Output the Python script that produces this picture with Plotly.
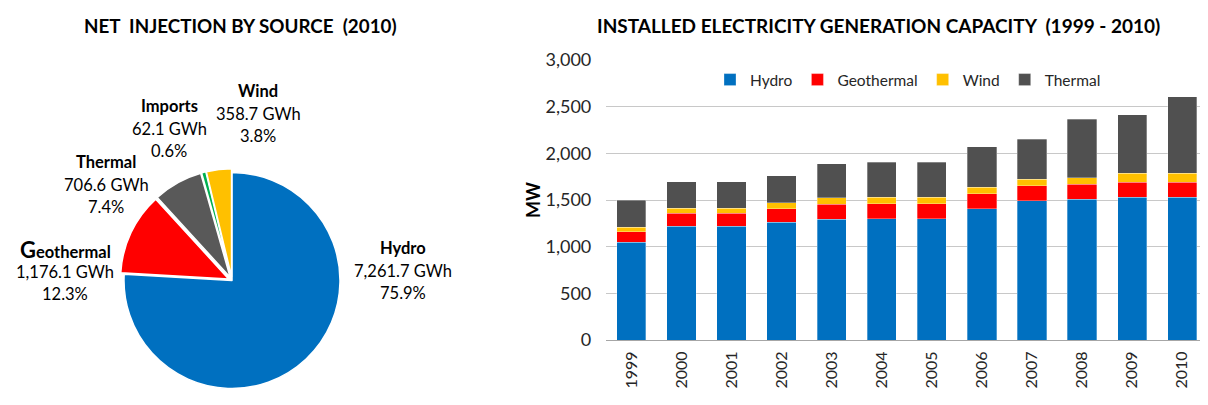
import plotly.graph_objects as go

# ---- Pie data (2010 net injection) ----
pie_labels = ["Hydro", "Geothermal", "Thermal", "Imports", "Wind"]
pie_gwh = [7261.7, 1176.1, 706.6, 62.1, 358.7]
pie_pct = [75.9, 12.3, 7.4, 0.6, 3.8]
pie_colors = ["#0070C0", "#FF0000", "#595959", "#00B050", "#FFC000"]

# ---- Bar data (installed capacity, MW) ----
years = ["1999", "2000", "2001", "2002", "2003", "2004", "2005",
         "2006", "2007", "2008", "2009", "2010"]
hydro = [1050, 1220, 1220, 1260, 1295, 1300, 1300, 1405, 1490, 1507, 1529, 1529]
geothermal = [110, 140, 140, 145, 160, 160, 160, 163, 163, 161, 160, 160]
wind = [50, 50, 50, 64, 67, 70, 70, 71, 68, 68, 97, 97]
thermal = [290, 285, 285, 290, 368, 375, 375, 432, 432, 628, 625, 821]
bar_names = ["Hydro", "Geothermal", "Wind", "Thermal"]
bar_colors = ["#0070C0", "#FF0000", "#FFC000", "#505050"]

FONT = "Lato"
OFF = 8                      # page body margin
W, H = 1208 - OFF, 405 - OFF


def px(rx):
    return (rx - OFF) / W


def py(ry):
    return 1 - (ry - OFF) / H


fig = go.Figure()

# pie: circle centre (232, 280.5), radius 108 in page pixels
PULL = 0.035
R = 108 * (1 + PULL)
fig.add_trace(go.Pie(
    labels=pie_labels, values=pie_gwh, sort=False, direction="clockwise",
    rotation=0, marker=dict(colors=pie_colors, line=dict(color="white", width=1.5)),
    pull=[0, PULL, PULL, PULL, PULL], textinfo="none", showlegend=False,
    hoverinfo="label+value+percent",
    domain=dict(x=[px(232 - R), px(232 + R)], y=[py(280.5 + R), py(280.5 - R)]),
))

for name, vals, col in zip(bar_names, [hydro, geothermal, wind, thermal], bar_colors):
    fig.add_trace(go.Bar(
        x=years, y=vals, name=name,
        marker=dict(color=col, line=dict(color="rgba(255,255,255,0.5)", width=0.6)),
        xaxis="x", yaxis="y",
    ))

# Pie labels (centre x, first-line y in page pixels)
label_pos = {
    "Hydro": (403, 248),
    "Geothermal": (65, 249),
    "Thermal": (106, 162),
    "Imports": (169, 106),
    "Wind": (258, 91),
}
annotations = []
for lab, g, p in zip(pie_labels, pie_gwh, pie_pct):
    cx, cy = label_pos[lab]
    head = lab
    if lab == "Geothermal":
        head = "<span style='font-size:22px'>G</span>eothermal"
    lines = ["<b>%s</b>" % head, "{:,.1f} GWh".format(g), "{:.1f}%".format(p)]
    for i, t in enumerate(lines):
        annotations.append(dict(
            x=px(cx), y=py(cy + i * 22.5), xref="paper", yref="paper",
            text=t, showarrow=False, xanchor="center", yanchor="middle",
            font=dict(family=FONT, size=16.5, color="#000000"),
        ))

annotations.append(dict(
    x=px(240), y=py(26), xref="paper", yref="paper", showarrow=False,
    text="<b>NET&nbsp; INJECTION BY SOURCE&nbsp; (2010)</b>",
    xanchor="center", yanchor="middle", font=dict(family=FONT, size=18.8, color="#000"),
))
annotations.append(dict(
    x=px(878), y=py(26), xref="paper", yref="paper", showarrow=False,
    text="<b>INSTALLED ELECTRICITY GENERATION CAPACITY&nbsp; (1999 - 2010)</b>",
    xanchor="center", yanchor="middle", font=dict(family=FONT, size=19, color="#000"),
))
annotations.append(dict(
    x=px(533), y=py(200), xref="paper", yref="paper", showarrow=False,
    text="<b>MW</b>", textangle=-90,
    xanchor="center", yanchor="middle", font=dict(family=FONT, size=18, color="#000"),
))

fig.update_layout(
    width=W, height=H, margin=dict(l=0, r=0, t=0, b=0),
    paper_bgcolor="white", plot_bgcolor="white",
    barmode="stack", bargap=0.415,
    font=dict(family=FONT, color="#262626"),
    xaxis=dict(domain=[px(606.3), px(1207.3)], anchor="y", tickangle=-90,
               tickfont=dict(size=16, color="#262626"), showgrid=False,
               showline=True, linecolor="#A6A6A6", linewidth=1, ticks="",
               automargin=False, ticklabelstandoff=4),
    yaxis=dict(domain=[py(340), py(60)], anchor="x", range=[0, 3000], dtick=500,
               tickformat=",", tickfont=dict(size=18, color="#262626"),
               showgrid=True, gridcolor="#C8C8C8", gridwidth=1, zeroline=False,
               ticks="", ticklabelstandoff=14, automargin=False),
    legend=dict(orientation="h", x=px(710), y=py(63), xanchor="left", yanchor="top",
                font=dict(size=15.5, color="#262626"), bgcolor="rgba(0,0,0,0)",
                itemwidth=30, traceorder="normal"),
    annotations=annotations,
)

fig.write_html("out.html")
